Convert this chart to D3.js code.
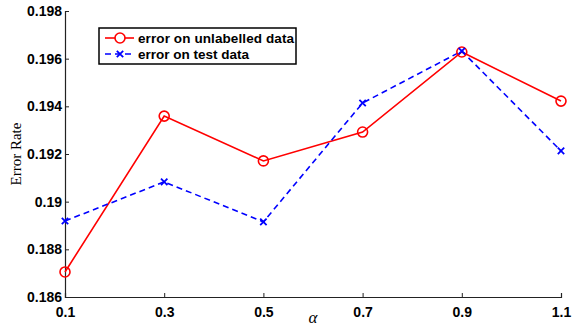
<!DOCTYPE html>
<html>
<head>
<meta charset="utf-8">
<script src="https://cdn.jsdelivr.net/npm/d3@7"></script>
<style>
  body { margin: 0; background: #fff; }
  .tick text { font-family: "Liberation Sans", Arial, sans-serif; font-weight: bold; font-size: 14px; fill: #000; }
</style>
</head>
<body>
<svg id="chart"></svg>
<script>
// values
const alphas = [0.1, 0.3, 0.5, 0.7, 0.9, 1.1];
const unlabelledErr = [0.18705, 0.19359, 0.19171, 0.19292, 0.19628, 0.19422];
const testErr = [0.18919, 0.19083, 0.18915, 0.19414, 0.19632, 0.19213];
const yTicks = [0.186, 0.188, 0.19, 0.192, 0.194, 0.196, 0.198];
const seriesNames = ["error on unlabelled data", "error on test data"];

const W = 579, H = 326;
const margin = { top: 11, right: 18, bottom: 29, left: 65 };
const width = W - margin.left - margin.right;
const height = H - margin.top - margin.bottom;

const svg = d3.select("#chart").attr("width", W).attr("height", H);
const g = svg.append("g").attr("transform", "translate(" + margin.left + "," + margin.top + ")");

const x = d3.scaleLinear().domain([0.1, 1.1]).range([0, width]);
const y = d3.scaleLinear().domain([0.186, 0.198]).range([height, 0]);

// axes, MATLAB style ticks pointing inward
const xAxis = g.append("g")
    .attr("transform", "translate(0," + height + ")")
    .call(d3.axisBottom(x).tickValues(alphas).tickSize(-4).tickPadding(7).tickFormat(d3.format("")));
const yAxis = g.append("g")
    .call(d3.axisLeft(y).tickValues(yTicks).tickSize(-4).tickPadding(3).tickFormat(d => d3.format("")(+d.toFixed(3))));
[xAxis, yAxis].forEach(a => {
    a.select(".domain").attr("stroke", "#222").attr("stroke-width", 1.2);
    a.selectAll(".tick line").attr("stroke", "#222");
});
xAxis.selectAll(".tick text").attr("dy", "0.9em");

const line = d3.line().x((d, i) => x(alphas[i])).y(d => y(d));

// red solid with circles
g.append("path").datum(unlabelledErr)
    .attr("d", line).attr("fill", "none").attr("stroke", "#f00").attr("stroke-width", 1.6);

// blue dashed with x markers
g.append("path").datum(testErr)
    .attr("d", line).attr("fill", "none").attr("stroke", "#00f").attr("stroke-width", 1.6)
    .attr("stroke-dasharray", "6,4");

g.selectAll(".circ").data(unlabelledErr).enter().append("circle")
    .attr("cx", (d, i) => x(alphas[i])).attr("cy", d => y(d)).attr("r", 5)
    .attr("fill", "none").attr("stroke", "#f00").attr("stroke-width", 1.6);

function cross(sel, cx, cy, s) {
    sel.append("path")
        .attr("d", `M${cx - s},${cy - s}L${cx + s},${cy + s}M${cx - s},${cy + s}L${cx + s},${cy - s}`)
        .attr("stroke", "#00f").attr("stroke-width", 1.8).attr("fill", "none");
}
testErr.forEach((d, i) => cross(g, x(alphas[i]), y(d), 3.2));

// legend
const leg = svg.append("g").attr("transform", "translate(99,28)");
leg.append("rect").attr("width", 197).attr("height", 36)
    .attr("fill", "#fff").attr("stroke", "#000").attr("stroke-width", 1.5);
leg.append("line").attr("x1", 6).attr("x2", 35).attr("y1", 10).attr("y2", 10)
    .attr("stroke", "#f00").attr("stroke-width", 1.6);
leg.append("circle").attr("cx", 21).attr("cy", 10).attr("r", 5)
    .attr("fill", "#fff").attr("stroke", "#f00").attr("stroke-width", 1.6);
leg.append("line").attr("x1", 6).attr("x2", 35).attr("y1", 26).attr("y2", 26)
    .attr("stroke", "#00f").attr("stroke-width", 1.6).attr("stroke-dasharray", "6,4");
cross(leg, 21, 26, 3.2);
leg.selectAll(".lt").data(seriesNames).enter().append("text")
    .attr("x", 39).attr("y", (d, i) => 10 + i * 16).attr("dy", "0.35em")
    .attr("textLength", (d, i) => i === 0 ? 156 : null)
    .style("font-family", "'Liberation Sans', Arial, sans-serif")
    .style("font-weight", "bold").style("font-size", "13.5px")
    .text(d => d);

// axis titles
svg.append("text")
    .attr("transform", "translate(21," + (margin.top + height / 2) + ") rotate(-90)")
    .attr("text-anchor", "middle")
    .style("font-family", "'Liberation Serif', 'Times New Roman', serif")
    .style("font-size", "15px")
    .text("Error Rate");
svg.append("text")
    .attr("x", 313).attr("y", 323)
    .attr("text-anchor", "middle")
    .style("font-family", "'Liberation Serif', 'Times New Roman', serif")
    .style("font-style", "italic").style("font-size", "17px")
    .text("α");
</script>
</body>
</html>
